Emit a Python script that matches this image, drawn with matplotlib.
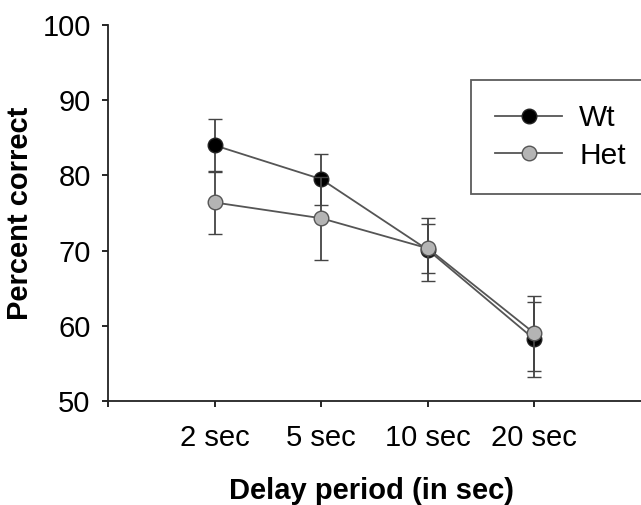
import matplotlib
matplotlib.use("Agg")
import matplotlib.pyplot as plt
from matplotlib.lines import Line2D
import numpy as np

plt.rcParams['font.family'] = ['Liberation Sans', 'DejaVu Sans']

categories = ["2 sec", "5 sec", "10 sec", "20 sec"]
wt_mean = [84.0, 79.5, 70.1, 58.2]
wt_err = [3.5, 3.4, 4.2, 5.0]
het_mean = [76.4, 74.3, 70.3, 59.0]
het_err = [4.2, 5.5, 3.3, 5.0]

fig = plt.figure(figsize=(6.41, 5.05), dpi=100)
ax = fig.add_axes([0.1685, 0.206, 0.8315, 0.7445])

x = np.arange(1, len(categories) + 1)
line_col = '#555555'
wt_style = dict(color=line_col, lw=1.3, marker='o', markersize=10.5,
                markerfacecolor='black', markeredgecolor='#222222', markeredgewidth=1.0)
het_style = dict(color=line_col, lw=1.3, marker='o', markersize=10.5,
                 markerfacecolor='#b4b4b4', markeredgecolor='#555555', markeredgewidth=1.0)
ax.errorbar(x, wt_mean, yerr=wt_err, ecolor='#444444', elinewidth=1.3,
            capsize=5, capthick=1.3, zorder=3, **wt_style)
ax.errorbar(x, het_mean, yerr=het_err, ecolor='#444444', elinewidth=1.3,
            capsize=5, capthick=1.3, zorder=4, **het_style)

ax.set_xlim(0, 5)
ax.set_ylim(50, 100)
ax.set_xticks([0] + list(x))
ax.set_xticklabels([''] + categories, fontsize=21)
ax.set_yticks([50, 60, 70, 80, 90, 100])
ax.tick_params(axis='y', labelsize=21, direction='out', length=4.5, width=1.2, pad=8)
ax.tick_params(axis='x', direction='out', length=4.5, width=1.2, pad=12)

for s in ['top', 'right']:
    ax.spines[s].set_visible(False)
for s in ['left', 'bottom']:
    ax.spines[s].set_linewidth(1.3)
    ax.spines[s].set_color('#222222')

ax.set_xlabel('Delay period (in sec)', fontsize=21, fontweight='bold')
ax.xaxis.set_label_coords(0.495, -0.203)
ax.set_ylabel('Percent correct', fontsize=21, fontweight='bold', labelpad=6)

handles = [Line2D([], [], **wt_style), Line2D([], [], **het_style)]
leg = ax.legend(handles, ['Wt', 'Het'], loc='upper left', bbox_to_anchor=(0.681, 0.854),
                fontsize=21.5, frameon=True, fancybox=False, edgecolor='#333333',
                handlelength=2.24, borderpad=0.82, labelspacing=0.32, handletextpad=0.57,
                borderaxespad=0)
leg.get_frame().set_linewidth(1.3)

fig.savefig('out.png', dpi=100)
